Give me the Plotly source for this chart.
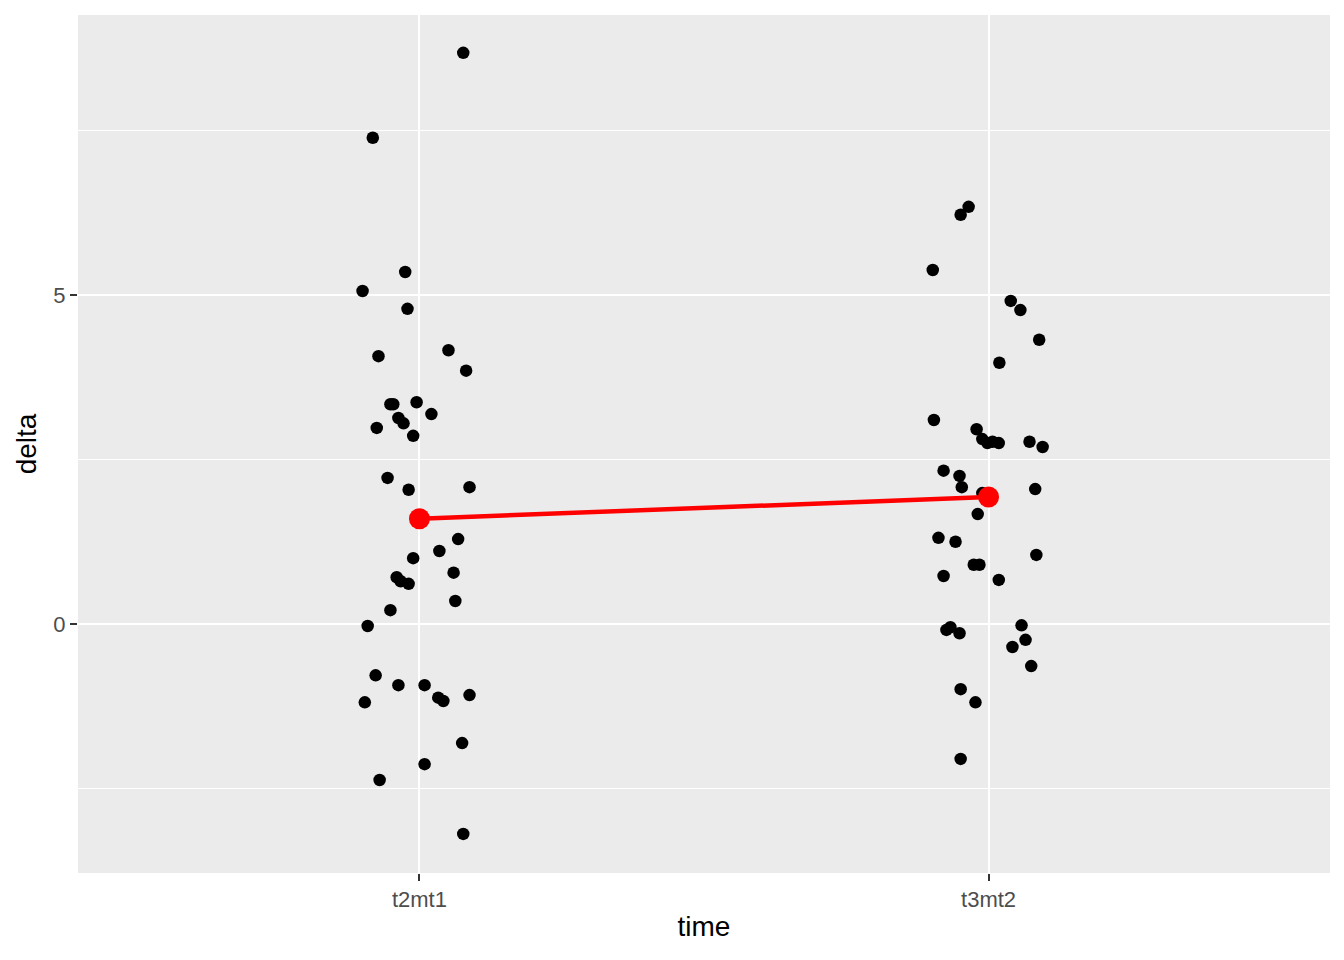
import plotly.graph_objects as go

categories = ["t2mt1", "t3mt2"]

# t2mt1 observations: jitter offset (category units) and delta value
t2_jitter = [0.077, -0.082, -0.025, -0.100, -0.021, -0.072, 0.051, 0.082, -0.051, -0.046,
             -0.005, 0.021, -0.037, -0.028, -0.075, -0.011, -0.056, -0.019, 0.088, 0.068,
             0.035, -0.011, 0.060, -0.040, -0.033, -0.019, 0.063, -0.051, -0.091, -0.077,
             -0.096, -0.037, 0.009, 0.033, 0.042, 0.088, 0.075, 0.009, -0.070, 0.077]
t2_delta = [8.68, 7.39, 5.35, 5.06, 4.79, 4.07, 4.16, 3.85, 3.34, 3.34,
            3.37, 3.19, 3.13, 3.05, 2.98, 2.86, 2.22, 2.04, 2.08, 1.29,
            1.11, 1.00, 0.78, 0.71, 0.65, 0.61, 0.35, 0.21, -0.03, -0.78,
            -1.19, -0.93, -0.93, -1.12, -1.17, -1.08, -1.81, -2.13, -2.37, -3.19]

# t3mt2 observations
t3_jitter = [-0.035, -0.049, -0.098, 0.039, 0.056, 0.089, 0.019, -0.096, -0.021, -0.011,
             -0.002, 0.007, 0.018, 0.072, 0.095, -0.079, -0.051, -0.047, -0.011, 0.082,
             -0.019, -0.088, -0.058, 0.084, -0.026, -0.016, -0.079, 0.018, 0.058, -0.067,
             -0.074, -0.051, 0.065, 0.042, 0.075, -0.049, -0.023, -0.049]
t3_delta = [6.34, 6.22, 5.38, 4.91, 4.77, 4.32, 3.97, 3.10, 2.96, 2.81,
            2.75, 2.77, 2.75, 2.77, 2.69, 2.33, 2.25, 2.08, 1.99, 2.05,
            1.67, 1.31, 1.25, 1.05, 0.90, 0.90, 0.73, 0.67, -0.02, -0.05,
            -0.09, -0.14, -0.24, -0.35, -0.64, -0.99, -1.19, -2.05]

# group means (red summary)
mean_delta = [1.60, 1.93]

fig = go.Figure()
fig.add_trace(go.Scatter(
    x=[1 + j for j in t2_jitter] + [2 + j for j in t3_jitter],
    y=t2_delta + t3_delta,
    mode="markers",
    marker=dict(color="black", size=12.5, line=dict(width=0)),
    showlegend=False, hoverinfo="y"))
fig.add_trace(go.Scatter(
    x=[1, 2], y=mean_delta, mode="lines+markers",
    line=dict(color="#ff0000", width=4.5),
    marker=dict(color="#ff0000", size=21, line=dict(width=0)),
    showlegend=False))

# page body has an 8px margin, so the figure is sized to end at the window edge
fig.update_layout(
    width=1336, height=952,
    margin=dict(l=70, r=14, t=7, b=87),
    paper_bgcolor="white", plot_bgcolor="#ebebeb",
    font=dict(family="Liberation Sans, Arial, sans-serif", color="black"),
    xaxis=dict(
        range=[0.4, 2.6], tickvals=[1, 2], ticktext=categories,
        showgrid=True, gridcolor="white", gridwidth=2.2,
        ticks="outside", ticklen=7, tickwidth=2, tickcolor="#333333",
        tickfont=dict(size=22, color="#4d4d4d"),
        title=dict(text="time", font=dict(size=28, color="black"), standoff=4),
        zeroline=False, showline=False),
    yaxis=dict(
        range=[-3.784, 9.255], tickvals=[0, 5], ticktext=["0", "5"],
        showgrid=True, gridcolor="white", gridwidth=2.2,
        minor=dict(tickvals=[-2.5, 2.5, 7.5], showgrid=True, gridcolor="white", gridwidth=1.1),
        ticks="outside", ticklen=7, tickwidth=2, tickcolor="#333333",
        tickfont=dict(size=22, color="#4d4d4d"),
        title=dict(text="delta", font=dict(size=28, color="black"), standoff=8),
        zeroline=False, showline=False),
)

fig.write_html("out.html")
